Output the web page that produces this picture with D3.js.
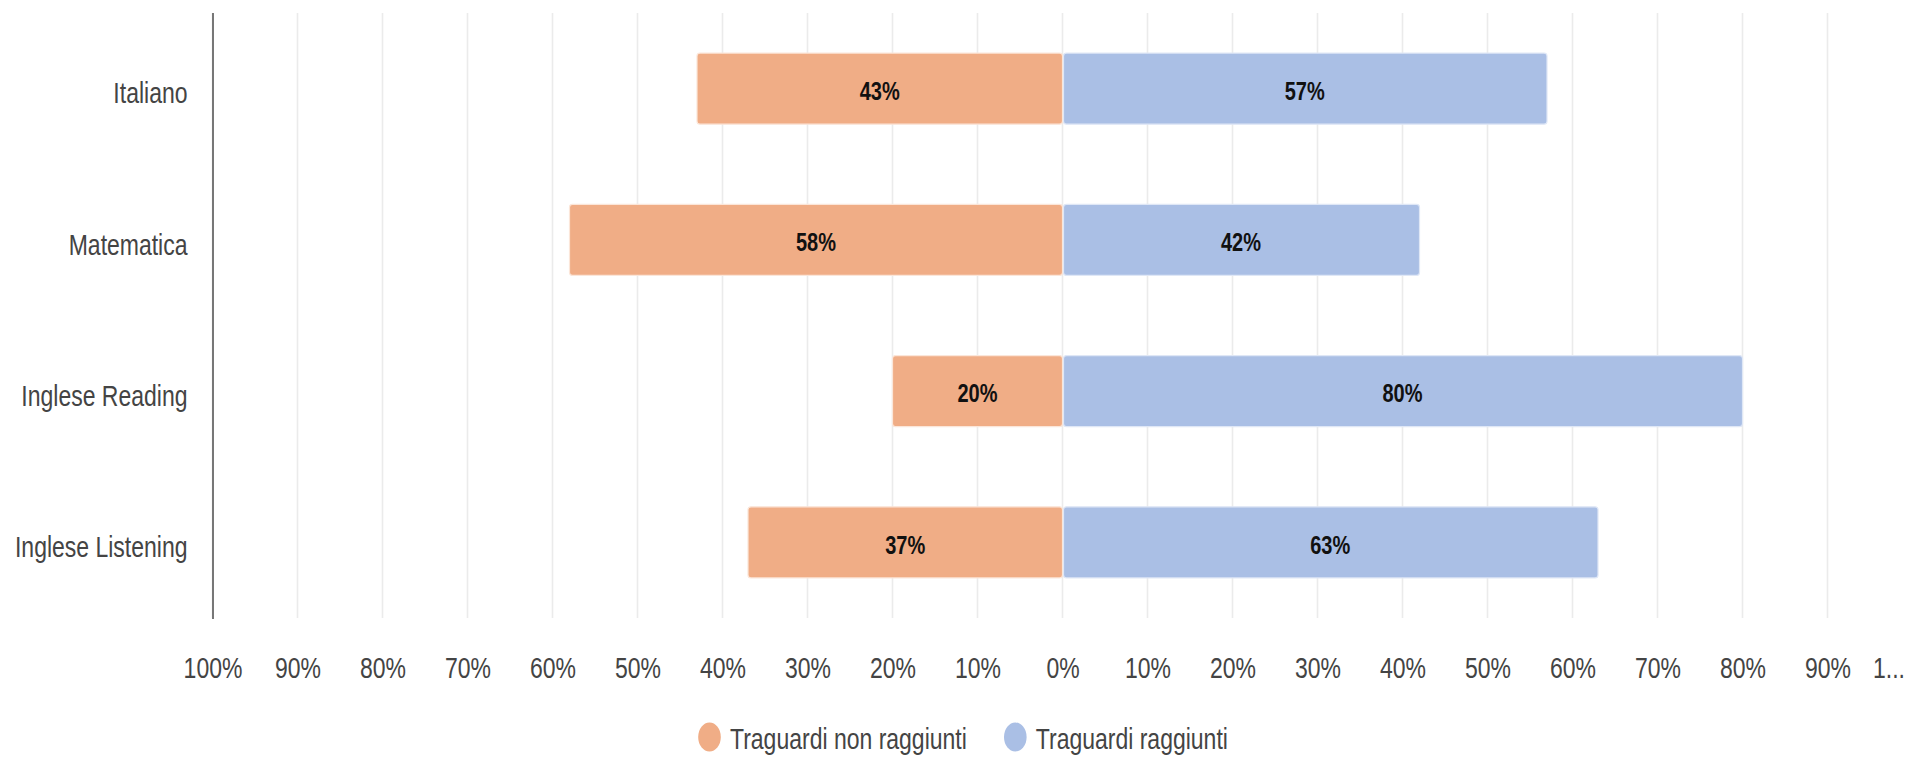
<!DOCTYPE html>
<html>
<head>
<meta charset="utf-8">
<script src="https://cdn.jsdelivr.net/npm/d3@7"></script>
<style>
  html, body { margin: 0; padding: 0; background: #ffffff; }
  svg { display: block; font-family: "Liberation Sans", Arial, sans-serif; }
</style>
</head>
<body>
<svg id="chart" width="1906" height="757"></svg>
<script>
// ---- data ----
const categories = ["Italiano", "Matematica", "Inglese Reading", "Inglese Listening"];
const notReached = [0.43, 0.58, 0.20, 0.37];   // Traguardi non raggiunti (left side)
const reached    = [0.57, 0.42, 0.80, 0.63];   // Traguardi raggiunti (right side)
const seriesNames = ["Traguardi non raggiunti", "Traguardi raggiunti"];
const tickValues = [-1, -0.9, -0.8, -0.7, -0.6, -0.5, -0.4, -0.3, -0.2, -0.1, 0, 0.1, 0.2, 0.3, 0.4, 0.5, 0.6, 0.7, 0.8, 0.9, 1];
const tickLabels = ["100%", "90%", "80%", "70%", "60%", "50%", "40%", "30%", "20%", "10%", "0%", "10%", "20%", "30%", "40%", "50%", "60%", "70%", "80%", "90%", "1..."];

// ---- styles ----
const colors = ["#F0AD86", "#AABFE5"];
const textColor = "#444444";
const SY = 1.3; // vertical stretch of glyphs as in the reference

const svg = d3.select("#chart");
const plotTop = 13, plotBottom = 618;
const x = d3.scaleLinear().domain([-1, 1]).range([212.5, 1912.5]);
const y = d3.scaleBand().domain(categories).range([plotTop, plotBottom]).paddingInner(0.53).paddingOuter(0.265);

// gridlines
svg.append("g").selectAll("line").data(tickValues).join("line")
  .attr("x1", d => x(d)).attr("x2", d => x(d))
  .attr("y1", plotTop).attr("y2", plotBottom)
  .attr("stroke", "#ebebeb").attr("stroke-width", 1.6);

// bars
const rows = categories.map((c, i) => ({ cat: c, neg: notReached[i], pos: reached[i] }));
const barG = svg.append("g");
barG.selectAll("rect.neg").data(rows).join("rect").attr("class", "neg")
  .attr("x", d => x(-d.neg)).attr("width", d => x(0) - x(-d.neg))
  .attr("y", d => y(d.cat)).attr("height", y.bandwidth())
  .attr("rx", 3).attr("fill", colors[0])
  .attr("stroke", "#fbe6d9").attr("stroke-width", 1.2);
barG.selectAll("rect.pos").data(rows).join("rect").attr("class", "pos")
  .attr("x", x(0) + 1).attr("width", d => x(d.pos) - x(0) - 1)
  .attr("y", d => y(d.cat)).attr("height", y.bandwidth())
  .attr("rx", 3).attr("fill", colors[1])
  .attr("stroke", "#dfe7f6").attr("stroke-width", 1.2);

// bar labels
const fmt = d3.format(".0%");
function barLabel(sel, cx, val) {
  sel.append("g")
    .attr("transform", d => `translate(${cx(d)},${y(d.cat) + y.bandwidth() / 2 + 2}) scale(1,${SY})`)
    .append("text")
    .attr("text-anchor", "middle").attr("dy", "0.36em")
    .attr("font-size", 20).attr("font-weight", "bold").attr("fill", "#111")
    .text(d => fmt(val(d)));
}
const lblG = svg.append("g");
const negL = lblG.selectAll("g.nl").data(rows).join("g").attr("class", "nl");
barLabel(negL, d => (x(-d.neg) + x(0)) / 2, d => d.neg);
const posL = lblG.selectAll("g.pl").data(rows).join("g").attr("class", "pl");
barLabel(posL, d => (x(d.pos) + x(0)) / 2, d => d.pos);

// left category axis
const yAxis = svg.append("g").attr("transform", `translate(${x(-1)},0)`)
  .call(d3.axisLeft(y).tickSize(0).tickPadding(0));
yAxis.select(".domain").remove();
yAxis.selectAll("text")
  .attr("x", 0).attr("dy", "0.36em")
  .attr("transform", `translate(-25,4) scale(1,${SY})`)
  .attr("font-size", 23).attr("fill", textColor)
  .attr("font-family", "'Liberation Sans', Arial, sans-serif");
svg.append("line")
  .attr("x1", x(-1) + 0.5).attr("x2", x(-1) + 0.5)
  .attr("y1", plotTop).attr("y2", plotBottom + 1)
  .attr("stroke", "#777").attr("stroke-width", 2);

// bottom axis
const xAxis = svg.append("g").attr("transform", `translate(0,${plotBottom})`)
  .call(d3.axisBottom(x).tickValues(tickValues).tickSize(0).tickPadding(0)
    .tickFormat((d, i) => tickLabels[i]));
xAxis.select(".domain").remove();
xAxis.selectAll("text")
  .attr("y", 0).attr("dy", "0.36em")
  .attr("transform", `translate(0,49) scale(1,${SY})`)
  .attr("font-size", 23).attr("fill", textColor)
  .attr("font-family", "'Liberation Sans', Arial, sans-serif");
// truncated last label is left-aligned against the right edge
xAxis.selectAll(".tick").filter((d, i) => i === tickValues.length - 1)
  .select("text").attr("text-anchor", "start").attr("x", -40);

// legend
const legend = svg.append("g").attr("transform", "translate(698,737)");
let lx = 0;
seriesNames.forEach((name, i) => {
  const item = legend.append("g").attr("transform", `translate(${lx},0)`);
  item.append("ellipse").attr("cx", 11.5).attr("cy", 0).attr("rx", 11.3).attr("ry", 14.5).attr("fill", colors[i]);
  const t = item.append("g").attr("transform", `translate(32,1) scale(1,${SY})`)
    .append("text").attr("dy", "0.36em").attr("font-size", 23).attr("fill", textColor).text(name);
  lx += 32 + t.node().getComputedTextLength() + 37;
});
</script>
</body>
</html>
